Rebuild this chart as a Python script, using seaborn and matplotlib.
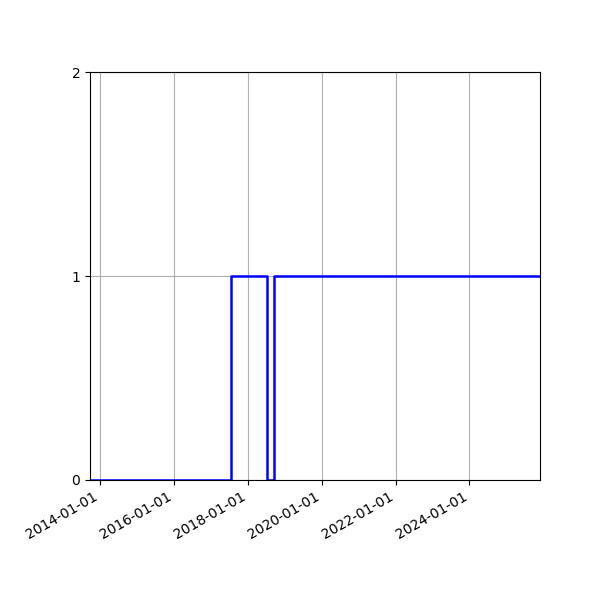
import matplotlib
matplotlib.use("Agg")
import matplotlib.pyplot as plt
import matplotlib.dates as mdates
import pandas as pd
import seaborn as sns

# change points of the step series
change_dates = ["2013-09-27", "2017-07-18", "2018-07-12", "2018-09-14", "2025-11-28"]
state_values = [0, 1, 0, 1, 1]
y_ticks = [0, 1, 2]

df = pd.DataFrame({"date": pd.to_datetime(change_dates), "value": state_values})

fig, ax = plt.subplots(figsize=(6, 6), dpi=100)
sns.lineplot(data=df, x="date", y="value", ax=ax, color="blue",
             drawstyle="steps-post", linewidth=1.8)

ax.set_xlim(df["date"].min(), df["date"].max())
ax.set_ylim(0, 2)
ax.set_yticks(y_ticks)
ax.xaxis.set_major_locator(mdates.YearLocator(2))
ax.xaxis.set_major_formatter(mdates.DateFormatter("%Y-%m-%d"))
ax.set_xlabel("")
ax.set_ylabel("")
ax.grid(True)
fig.autofmt_xdate()
fig.subplots_adjust(left=0.15, right=0.9, top=0.88, bottom=0.2)

plt.savefig("out.png", dpi=100)
